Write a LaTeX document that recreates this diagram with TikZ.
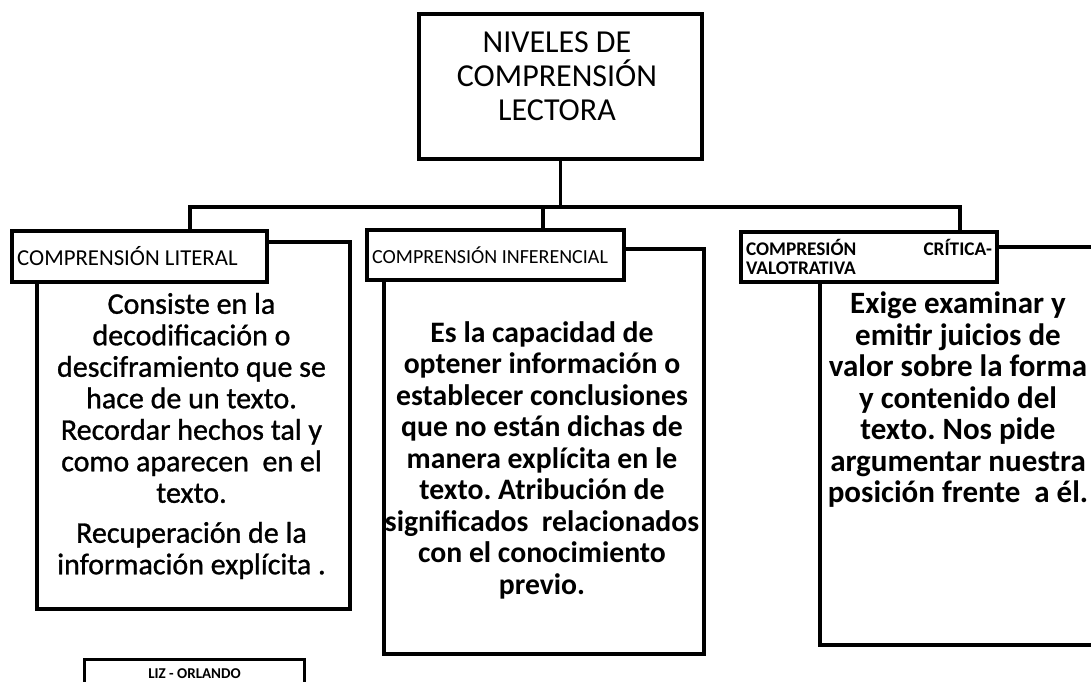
\documentclass[tikz,border=0pt]{standalone}
\usepackage{fontspec}
\setmainfont{Carlito}
\newfontfamily\semibold[FakeBold=1]{Carlito}
\frenchspacing
\begin{document}
\begin{tikzpicture}[x=1pt,y=-1pt]
\tikzset{
  frame/.style={draw=black, line width=4pt, fill=white, inner sep=0pt, anchor=north west},
  conn/.style={draw=black, line width=3.5pt},
  txt/.style={align=center, inner sep=0pt},
  labtxt/.style={inner sep=0pt, anchor=west},
}
\useasboundingbox (0,0) rectangle (1091,681);
\clip (0,0) rectangle (1091,681);
\fill[white] (0,0) rectangle (1091,681);

% top box
\node[frame, minimum width=283pt, minimum height=145pt] (top) at (417,12) {};
\node[txt, font=\fontsize{32}{34}\selectfont] (toptxt) at (557,76) {NIVELES DE\\COMPRENSIÓN\\LECTORA};

% content boxes (drawn first so the labels cover them)
\node[frame, minimum width=313pt, minimum height=367pt] (c1) at (35,240) {};
\node[frame, minimum width=320pt, minimum height=405pt] (c2) at (382,247) {};
\node[frame, minimum width=300pt, minimum height=398pt] (c3) at (818,245) {};

% label boxes
\node[frame, minimum width=255pt, minimum height=51pt] (l1) at (10,229) {};
\node[labtxt, font=\fontsize{22.8}{24}\selectfont] (l1t) at ([xshift=7pt]l1.west) {COMPRENSIÓN LITERAL};
\node[frame, minimum width=257pt, minimum height=50pt] (l2) at (365,228) {};
\node[labtxt, font=\fontsize{20}{22}\selectfont] (l2t) at ([xshift=7pt]l2.west) {COMPRENSIÓN INFERENCIAL};
\node[frame, minimum width=256pt, minimum height=50pt] (l3) at (739,230) {};
\node[txt, align=left, text width=246pt, font=\bfseries\fontsize{19.3}{19.5}\selectfont] (l3t) at (l3.center)
  {\makebox[246pt][s]{COMPRESIÓN\hfill CRÍTICA-}\\VALOTRATIVA};

% connectors
\coordinate (busL) at (190,207);
\coordinate (busM) at (543,207);
\coordinate (busR) at (960,207);
\draw[conn] (top.south) -- (top.south |- busL);
\draw[conn] ([xshift=-1.75pt]busL) -- ([xshift=1.75pt]busR);
\draw[conn] (busL) -- (busL |- l1.north);
\draw[conn] (busM) -- (busM |- l2.north);
\draw[conn] (busR) -- (busR |- l3.north);

% content texts
\node[txt, font=\semibold\fontsize{30}{31.5}\selectfont] (t1) at (191.5,436)
 {Consiste en la\\decodificación o\\desciframiento que se\\hace de un texto.\\Recordar hechos tal y\\como aparecen\ \ en el\\texto.\\[8.5pt]Recuperación de la\\información explícita .};
\node[txt, font=\bfseries\fontsize{29.7}{31.5}\selectfont] (t2) at (542,460)
 {Es la capacidad de\\optener información o\\establecer conclusiones\\que no están dichas de\\manera explícita en le\\texto. Atribución de\\significados\ \ relacionados\\con el conocimiento\\previo.};
\node[txt, font=\bfseries\fontsize{31}{31.5}\selectfont] (t3) at (958,400)
 {Exige examinar y\\emitir juicios de\\valor sobre la forma\\y contenido del\\texto. Nos pide\\argumentar nuestra\\posición frente\ \ a él.};

% signature box
\node[frame, line width=3pt, minimum width=220pt, minimum height=28pt] (liz) at (83,658) {};
\node[txt, font=\bfseries\fontsize{15}{16}\selectfont] (lizt) at (liz.center) {LIZ - ORLANDO};
\end{tikzpicture}
\end{document}
